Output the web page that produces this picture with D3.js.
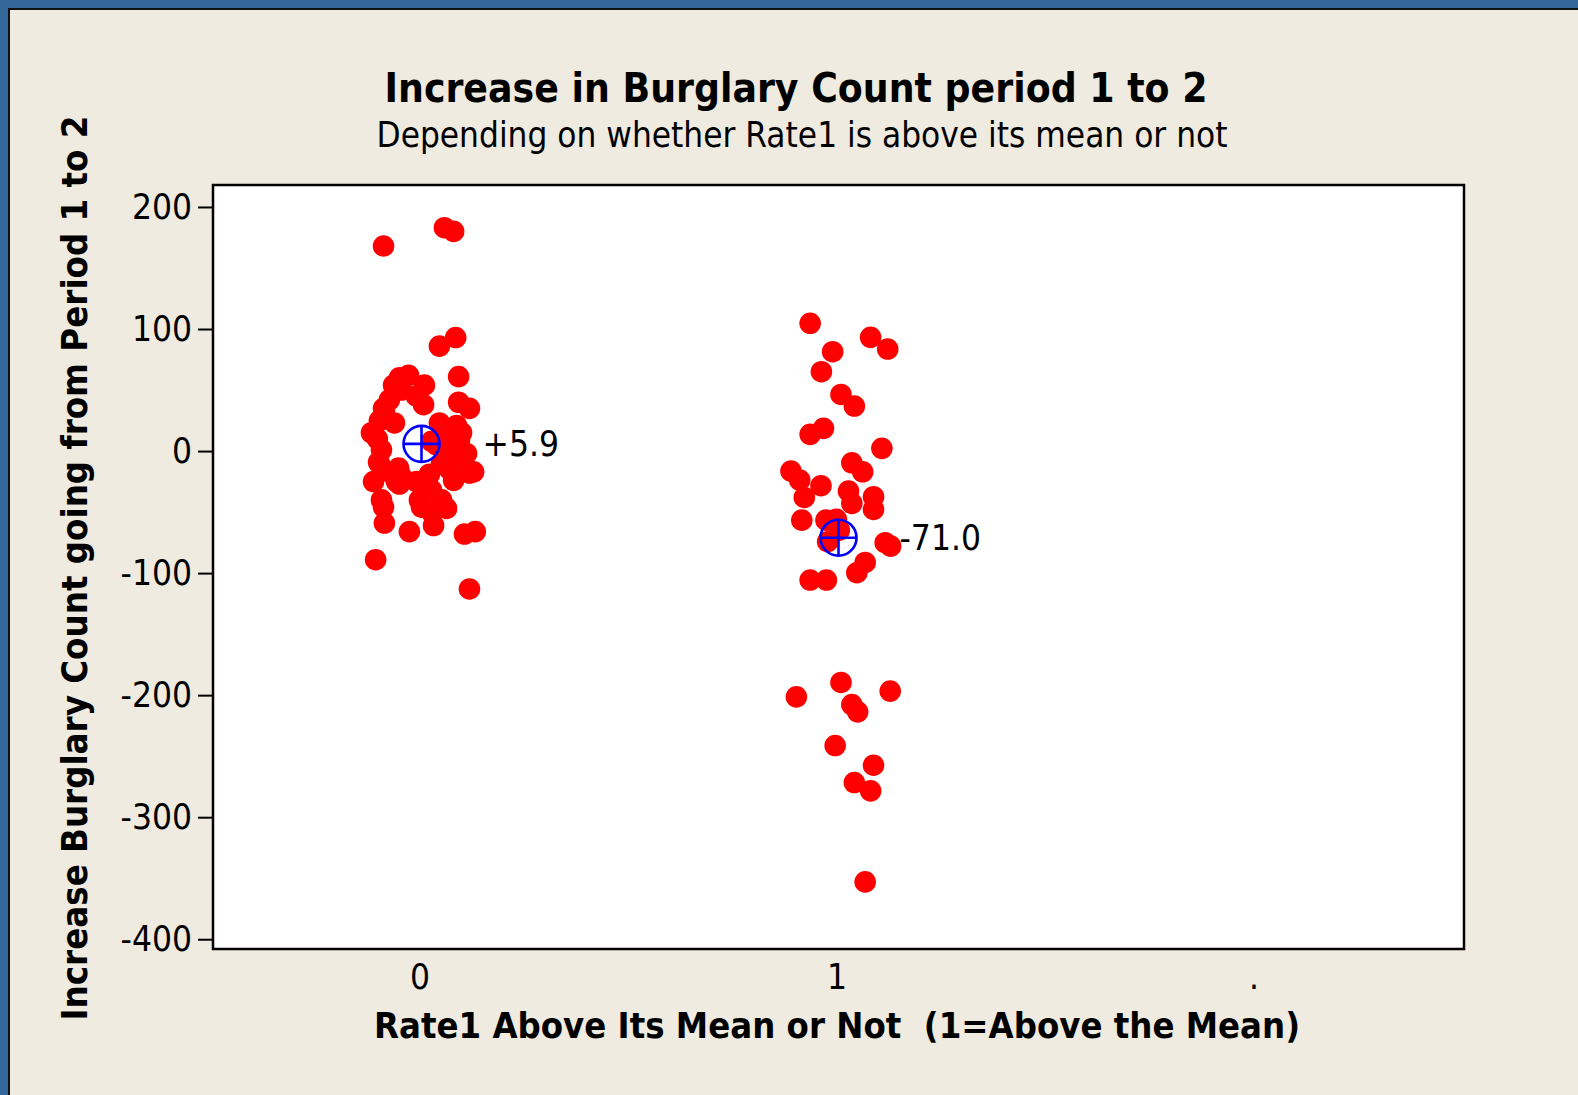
<!DOCTYPE html>
<html>
<head>
<meta charset="utf-8">
<script src="https://cdn.jsdelivr.net/npm/d3@7"></script>
<style>
  html, body { margin: 0; padding: 0; background: #336699; }
  svg { display: block; }
  text { font-family: "DejaVu Sans Condensed", "DejaVu Sans", sans-serif; fill: #000; }
</style>
</head>
<body>
<svg id="chart" width="1578" height="1095"></svg>
<script>
// Categories on the x axis (the "." category holds no observations)
const categories = ["0", "1", "."];

// Rate1 below its mean (group 0): jittered x position and burglary increase
const group0X = [
  -0.091, 0.055, 0.077, 0.043, 0.082, 0.089, 0.089, 0.115, -0.067, -0.031,
  -0.053, 0.007, 0.005, -0.091, -0.065, -0.101, -0.120, 0.043, 0.084, -0.048,
  -0.089, -0.077, -0.012, -0.096, -0.103, 0.091, 0.108, 0.125, -0.115, -0.048,
  -0.096, -0.091, 0.000, 0.060, 0.077, 0.024, -0.089, -0.029, 0.029, 0.103,
  0.129, -0.110, 0.115, -0.101, -0.055, -0.053, 0.115, 0.019, 0.017, -0.005,
  0.072, 0.060, 0.036, 0.024, 0.048, 0.084, -0.106, -0.072, -0.060, 0.096,
  0.067, -0.012, 0.024, 0.048
];
const group0Values = [
  168, 183, 180, 86, 93, 61, 40, 35, 54, 62,
  60, 54, 38, 35, 23, 25, 15, 23, 21, 50,
  33, 42, 45, 1, -9, 9, -2, -17, -25, -21,
  -40, -46, -46, -47, -24, -32, -59, -66, -61, -68,
  -66, -89, -113, -10, -14, -27, -18, -19, -30, -40,
  2, 12, 5, 8, -10, -5, 10, -18, -25, 15,
  -15, -25, -50, -40
];

// Rate1 above its mean (group 1)
const group1X = [
  0.932, 1.077, 1.118, 0.986, 0.959, 1.006, 1.038, 0.964, 0.932, 1.104,
  0.886, 0.907, 1.032, 1.058, 0.958, 0.918, 1.024, 1.032, 1.084, 1.084,
  0.912, 0.970, 0.995, 0.974, 1.002, 1.112, 1.125, 1.064, 1.044, 0.932,
  0.971, 1.006, 0.899, 1.124, 1.032, 1.046, 0.992, 1.084, 1.038, 1.077,
  1.064
];
const group1Values = [
  104.7, 93.2, 83.6, 81.4, 65, 46.4, 36.9, 18.6, 13.7, 2.2,
  -16.4, -23.8, -9.6, -17, -28.4, -38, -32.8, -42.9, -37.4, -47.8,
  -56.6, -56.6, -56, -74.3, -64.8, -75.1, -77.9, -91.3, -99.7, -105.7,
  -105.7, -189.6, -201.4, -196.7, -207.7, -213.7, -241.3, -257.4, -271.6, -278.4,
  -353
];

// Group means and their labels
const meanX = [0, 1];
const meanValues = [5.9, -71.0];
const meanLabels = ["+5.9", "-71.0"];

// Axis ticks
const yTicks = [200, 100, 0, -100, -200, -300, -400];
const xTicks = [0, 1, 2];

const svg = d3.select("#chart");
const W = 1578, H = 1095;

// Page frame
svg.append("rect")
  .attr("x", 9).attr("y", 9).attr("width", W).attr("height", H)
  .attr("fill", "#efebe1").attr("stroke", "#111").attr("stroke-width", 2);

const plot = { left: 213, top: 185, right: 1464, bottom: 949 };

const x = d3.scaleLinear().domain([-0.5, 2.5]).range([plot.left, plot.right]);
const y = d3.scaleLinear().domain([-408, 218]).range([plot.bottom, plot.top]);

// Titles
svg.append("text")
  .attr("x", 796).attr("y", 102)
  .attr("text-anchor", "middle")
  .attr("textLength", 823).attr("lengthAdjust", "spacingAndGlyphs")
  .style("font-size", "40px").style("font-weight", "bold")
  .text("Increase in Burglary Count period 1 to 2");
svg.append("text")
  .attr("x", 802).attr("y", 147)
  .attr("text-anchor", "middle")
  .attr("textLength", 851).attr("lengthAdjust", "spacingAndGlyphs")
  .style("font-size", "35px")
  .text("Depending on whether Rate1 is above its mean or not");

// Plot area
svg.append("rect")
  .attr("x", plot.left).attr("y", plot.top)
  .attr("width", plot.right - plot.left).attr("height", plot.bottom - plot.top)
  .attr("fill", "#fff");

// Y axis
const yAxis = svg.append("g")
  .attr("transform", `translate(${plot.left},0)`)
  .call(d3.axisLeft(y).tickValues(yTicks).tickSize(15).tickPadding(6).tickFormat(d3.format("d")));
yAxis.select(".domain").remove();
yAxis.selectAll(".tick line").attr("stroke", "#000").attr("stroke-width", 2);
yAxis.selectAll(".tick text")
  .style("font-size", "35px")
  .style("font-family", '"DejaVu Sans Condensed", "DejaVu Sans", sans-serif')
  .text(d => d < 0 ? "-" + Math.abs(d) : d);

// X axis (category labels only)
const xAxis = svg.append("g")
  .attr("transform", `translate(0,${plot.bottom})`)
  .call(d3.axisBottom(x).tickValues(xTicks).tickSize(0).tickFormat(i => categories[i]));
xAxis.select(".domain").remove();
xAxis.selectAll(".tick text")
  .attr("x", -2).attr("y", 40).attr("dy", 0)
  .style("font-size", "35px")
  .style("font-family", '"DejaVu Sans Condensed", "DejaVu Sans", sans-serif');

// Axis titles
svg.append("text")
  .attr("x", 837).attr("y", 1038)
  .attr("text-anchor", "middle")
  .attr("textLength", 926).attr("lengthAdjust", "spacingAndGlyphs")
  .style("font-size", "35px").style("font-weight", "bold")
  .style("white-space", "pre")
  .text("Rate1 Above Its Mean or Not  (1=Above the Mean)");
svg.append("text")
  .attr("transform", "translate(87,568) rotate(-90)")
  .attr("text-anchor", "middle")
  .attr("textLength", 905).attr("lengthAdjust", "spacingAndGlyphs")
  .style("font-size", "35px").style("font-weight", "bold")
  .text("Increase Burglary Count going from Period 1 to 2");

// Observations
const points = group0X.map((v, i) => ({ x: v, y: group0Values[i] }))
  .concat(group1X.map((v, i) => ({ x: v, y: group1Values[i] })));

svg.append("g")
  .selectAll("circle")
  .data(points)
  .join("circle")
  .attr("cx", d => x(d.x))
  .attr("cy", d => y(d.y))
  .attr("r", 10.8)
  .attr("fill", "#ff0000");

// Mean symbols: circle with a cross, plus value label
const means = meanX.map((v, i) => ({ x: v, y: meanValues[i], label: meanLabels[i] }));
const mg = svg.append("g").selectAll("g").data(means).join("g")
  .attr("transform", d => `translate(${x(d.x)},${y(d.y)})`);
const R = 18;
mg.append("circle").attr("r", R).attr("fill", "none").attr("stroke", "#0000ff").attr("stroke-width", 2.6);
mg.append("line").attr("x1", -R).attr("x2", R).attr("stroke", "#0000ff").attr("stroke-width", 2.6);
mg.append("line").attr("y1", -R).attr("y2", R).attr("stroke", "#0000ff").attr("stroke-width", 2.6);
mg.append("text")
  .attr("x", 61).attr("dy", "0.36em")
  .style("font-size", "35px")
  .text(d => d.label);

// Plot border
svg.append("rect")
  .attr("x", plot.left).attr("y", plot.top)
  .attr("width", plot.right - plot.left).attr("height", plot.bottom - plot.top)
  .attr("fill", "none").attr("stroke", "#000").attr("stroke-width", 2.5);
</script>
</body>
</html>
